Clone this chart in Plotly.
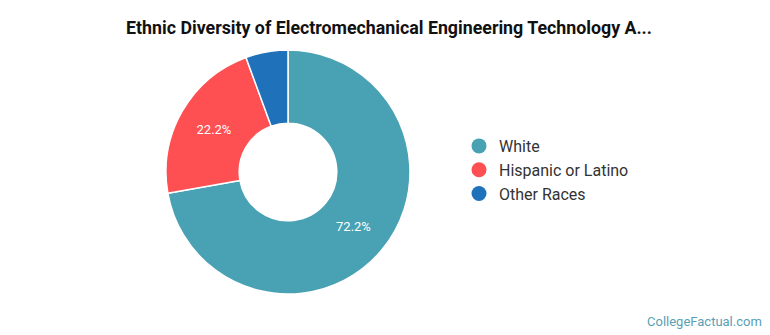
import plotly.graph_objects as go

labels = ["White", "Hispanic or Latino", "Other Races"]
values = [72.2, 22.2, 5.6]
colors = ["#49a1b4", "#fe5052", "#1f72ba"]
shown_text = ["72.2%", "22.2%", ""]

W, H = 770, 335
cx, cy, r = 288, 172, 122

fig = go.Figure()

fig.add_trace(go.Pie(
    labels=labels,
    values=values,
    text=shown_text,
    textinfo="text",
    textposition="inside",
    insidetextorientation="horizontal",
    textfont=dict(family="Roboto", size=13, color="white"),
    marker=dict(colors=colors, line=dict(color="white", width=1.5)),
    hole=0.4,
    sort=False,
    direction="clockwise",
    rotation=0,
    showlegend=False,
    hoverinfo="label+percent",
    domain=dict(x=[(cx - r) / W, (cx + r) / W], y=[(H - cy - r) / H, (H - cy + r) / H]),
))

# Circle-marker legend entries
for name, col in zip(labels, colors):
    fig.add_trace(go.Scatter(
        x=[None], y=[None], mode="markers", name=name,
        marker=dict(symbol="circle", size=15, color=col),
    ))

fig.update_layout(
    width=W, height=H,
    margin=dict(l=0, r=0, t=0, b=0),
    paper_bgcolor="white",
    plot_bgcolor="white",
    xaxis=dict(visible=False),
    yaxis=dict(visible=False),
    title=dict(
        text="<b>Ethnic Diversity of Electromechanical Engineering Technology A...</b>",
        x=(W / 2 + 4) / W, xanchor="center", y=1 - 28 / H, yanchor="middle",
        font=dict(family="Roboto", size=17.8, color="#111111"),
    ),
    legend=dict(
        x=459 / W, xanchor="left", y=1 - 170 / H, yanchor="middle",
        font=dict(family="Roboto", size=16, color="#333333"),
        bgcolor="rgba(0,0,0,0)",
        itemwidth=30,
        tracegroupgap=0,
    ),
    annotations=[dict(
        text="CollegeFactual.com", xref="paper", yref="paper",
        x=1 - 6 / W, y=(335 - 321) / H, xanchor="right", yanchor="middle",
        showarrow=False, font=dict(family="Roboto", size=13, color="#5a9fb4"),
    )],
)

fig.write_html("out.html")
